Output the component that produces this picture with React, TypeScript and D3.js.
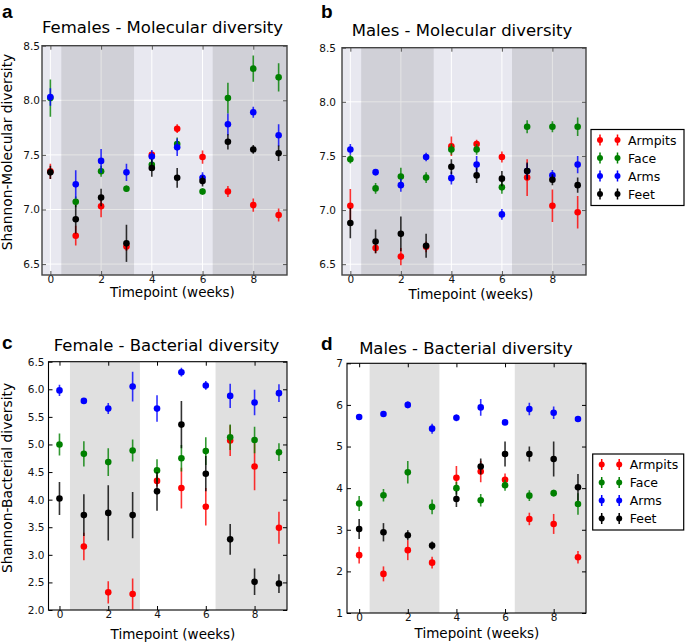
import React, { useRef, useEffect } from 'react';
import * as d3 from 'd3';

// timepoints and sites
const weeks = [0, 1, 2, 3, 4, 5, 6, 7, 8, 9];
const sites = ['Armpits', 'Face', 'Arms', 'Feet'];
const siteColors = ['#ff0000', '#008000', '#0000ff', '#000000'];

// tick values
const xTicks = [0, 2, 4, 6, 8];
const molTicks = [6.5, 7.0, 7.5, 8.0, 8.5];
const femBacTicks = [2.0, 2.5, 3.0, 3.5, 4.0, 4.5, 5.0, 5.5, 6.0, 6.5];
const maleBacTicks = [1, 2, 3, 4, 5, 6, 7];

// a - Females, molecular diversity
const femMolArmpits = [7.35, 6.76, 7.03, 6.66, 7.5, 7.74, 7.48, 7.165, 7.04, 6.95];
const femMolArmpitsErr = [0.07, 0.09, 0.1, 0.04, 0.03, 0.04, 0.06, 0.05, 0.06, 0.06];
const femMolFace = [8.02, 7.07, 7.35, 7.19, 7.41, 7.6, 7.165, 8.02, 8.29, 8.21];
const femMolFaceErr = [0.17, 0.05, 0.05, 0.03, 0.04, 0.06, 0.03, 0.14, 0.12, 0.13];
const femMolArms = [8.03, 7.23, 7.445, 7.34, 7.485, 7.57, 7.29, 7.78, 7.89, 7.68];
const femMolArmsErr = [0.08, 0.13, 0.11, 0.08, 0.06, 0.08, 0.05, 0.1, 0.05, 0.1];
const femMolFeet = [7.34, 6.91, 7.11, 6.69, 7.38, 7.29, 7.26, 7.62, 7.55, 7.515];
const femMolFeetErr = [0.06, 0.13, 0.08, 0.17, 0.08, 0.09, 0.05, 0.07, 0.04, 0.07];

// b - Males, molecular diversity
const maleMolArmpits = [7.04, 6.65, 6.57, 6.66, 7.59, 7.61, 7.49, 7.3, 7.04, 6.98];
const maleMolArmpitsErr = [0.155, 0.05, 0.08, 0.05, 0.09, 0.04, 0.05, 0.17, 0.15, 0.15];
const maleMolFace = [7.47, 7.2, 7.31, 7.3, 7.56, 7.56, 7.21, 7.77, 7.77, 7.77];
const maleMolFaceErr = [0.04, 0.05, 0.08, 0.05, 0.05, 0.05, 0.06, 0.06, 0.05, 0.085];
const maleMolArms = [7.56, 7.35, 7.23, 7.49, 7.295, 7.42, 6.96, 7.36, 7.32, 7.42];
const maleMolArmsErr = [0.05, 0.03, 0.06, 0.04, 0.06, 0.08, 0.05, 0.07, 0.05, 0.08];
const maleMolFeet = [6.88, 6.71, 6.78, 6.67, 7.4, 7.32, 7.29, 7.36, 7.28, 7.23];
const maleMolFeetErr = [0.14, 0.11, 0.16, 0.11, 0.07, 0.07, 0.07, 0.08, 0.05, 0.07];

// c - Female, bacterial diversity (armpits week 0 not visible)
const femBacArmpits = [null, 3.15, 2.32, 2.29, 4.34, 4.21, 3.87, 5.07, 4.6, 3.49];
const femBacArmpitsErr = [0, 0.25, 0.2, 0.28, 0.1, 0.37, 0.34, 0.28, 0.43, 0.29];
const femBacFace = [5.0, 4.83, 4.68, 4.89, 4.53, 4.75, 4.88, 5.13, 5.08, 4.86];
const femBacFaceErr = [0.2, 0.23, 0.25, 0.2, 0.2, 0.24, 0.25, 0.23, 0.24, 0.16];
const femBacArms = [5.98, 5.79, 5.65, 6.05, 5.65, 6.31, 6.07, 5.88, 5.76, 5.93];
const femBacArmsErr = [0.1, 0.03, 0.1, 0.27, 0.24, 0.08, 0.08, 0.22, 0.23, 0.16];
const femBacFeet = [4.02, 3.72, 3.76, 3.72, 4.15, 5.36, 4.47, 3.28, 2.51, 2.48];
const femBacFeetErr = [0.3, 0.38, 0.5, 0.42, 0.35, 0.43, 0.32, 0.28, 0.24, 0.17];

// d - Males, bacterial diversity
const maleBacArmpits = [2.39, 1.94, 2.51, 2.21, 4.25, 4.4, 4.2, 3.26, 3.14, 2.34];
const maleBacArmpitsErr = [0.2, 0.18, 0.24, 0.14, 0.28, 0.26, 0.15, 0.15, 0.24, 0.15];
const maleBacFace = [3.63, 3.83, 4.38, 3.55, 4.0, 3.71, 4.07, 3.82, 3.88, 3.62];
const maleBacFaceErr = [0.18, 0.15, 0.27, 0.18, 0.15, 0.15, 0.13, 0.13, 0.08, 0.26];
const maleBacArms = [5.71, 5.78, 6.0, 5.43, 5.69, 5.94, 5.58, 5.9, 5.81, 5.66];
const maleBacArmsErr = [0.03, 0.06, 0.08, 0.12, 0.08, 0.2, 0.05, 0.15, 0.15, 0.05];
const maleBacFeet = [3.02, 2.94, 2.87, 2.62, 3.74, 4.52, 4.82, 4.82, 4.7, 4.02];
const maleBacFeetErr = [0.24, 0.22, 0.12, 0.1, 0.19, 0.19, 0.3, 0.18, 0.42, 0.32];

// shaded week ranges
const bands: [number, number][] = [[0.43, 3.3], [6.4, 10]];

const FONT = "'DejaVu Sans', sans-serif";

type Series = { mean: (number | null)[]; err: number[] };

interface PanelProps {
  letter: string;
  letterPos: [number, number];
  title: string;
  titlePos: [number, number];
  xLabelPos: [number, number];
  yLabel?: string;
  yLabelPos?: [number, number];
  box: { left: number; top: number; width: number; height: number };
  xDomain: [number, number];
  yDomain: [number, number];
  yTicks: number[];
  yFormat: (d: number) => string;
  yPad: number;
  themed: boolean;
  series: Series[];
  legend?: { x: number; y: number; w: number; h: number };
}

const Panel: React.FC<PanelProps> = (p) => {
  const ref = useRef<SVGGElement>(null);

  useEffect(() => {
    if (!ref.current) return;
    const g = d3.select(ref.current);
    g.selectAll('*').remove();

    const { left, top, width, height } = p.box;
    const right = left + width;
    const bottom = top + height;
    const x = d3.scaleLinear().domain(p.xDomain).range([left, right]);
    const y = d3.scaleLinear().domain(p.yDomain).range([bottom, top]);
    const tickColor = p.themed ? '#555' : '#000';

    const clipId = `clip-${p.letter}`;
    g.append('clipPath').attr('id', clipId)
      .append('rect').attr('x', left).attr('y', top).attr('width', width).attr('height', height);

    // background
    g.append('rect')
      .attr('x', left).attr('y', top).attr('width', width).attr('height', height)
      .attr('fill', p.themed ? '#e8e8f0' : '#fff');

    if (p.themed) {
      g.append('g').selectAll('line').data(xTicks).join('line')
        .attr('x1', d => x(d)).attr('x2', d => x(d))
        .attr('y1', top).attr('y2', bottom)
        .attr('stroke', '#fff').attr('stroke-width', 1);
      g.append('g').selectAll('line').data(p.yTicks).join('line')
        .attr('x1', left).attr('x2', right)
        .attr('y1', d => y(d)).attr('y2', d => y(d))
        .attr('stroke', '#fff').attr('stroke-width', 1);
    }

    // shaded periods
    g.append('g').attr('clip-path', `url(#${clipId})`)
      .selectAll('rect').data(bands).join('rect')
      .attr('x', d => x(d[0]))
      .attr('width', d => x(Math.min(d[1], p.xDomain[1])) - x(d[0]))
      .attr('y', top).attr('height', height)
      .attr('fill', '#000')
      .attr('opacity', p.themed ? 0.1 : 0.12);

    // error bars + points
    const marks = g.append('g').attr('clip-path', `url(#${clipId})`);
    p.series.forEach((s, i) => {
      const pts = weeks
        .map((w, j) => ({ w, m: s.mean[j], e: s.err[j] }))
        .filter(d => d.m !== null) as { w: number; m: number; e: number }[];
      const sg = marks.append('g');
      sg.selectAll('line').data(pts).join('line')
        .attr('x1', d => x(d.w)).attr('x2', d => x(d.w))
        .attr('y1', d => y(d.m - d.e)).attr('y2', d => y(d.m + d.e))
        .attr('stroke', siteColors[i]).attr('stroke-width', 1.6)
        .attr('stroke-opacity', 0.8);
      sg.selectAll('circle').data(pts).join('circle')
        .attr('cx', d => x(d.w)).attr('cy', d => y(d.m))
        .attr('r', 3.3)
        .attr('fill', siteColors[i]);
    });

    // axes, ticks pointing inward
    const styleAxis = (sel: d3.Selection<SVGGElement, unknown, null, undefined>) => {
      sel.select('.domain').remove();
      sel.attr('font-family', FONT).attr('font-size', 10.5);
      sel.selectAll('text').attr('fill', '#111');
      sel.selectAll('line').attr('stroke', tickColor);
    };
    g.append('g').attr('transform', `translate(0,${bottom})`)
      .call(d3.axisBottom(x).tickValues(xTicks).tickSize(-4).tickPadding(1).tickFormat(d3.format('d')))
      .call(styleAxis);
    g.append('g').attr('transform', `translate(0,${top})`)
      .call(d3.axisTop(x).tickValues(xTicks).tickSize(-4).tickFormat(() => ''))
      .call(styleAxis);
    g.append('g').attr('transform', `translate(${left},0)`)
      .call(d3.axisLeft(y).tickValues(p.yTicks).tickSize(-4).tickPadding(p.yPad)
        .tickFormat(d => p.yFormat(d as number)))
      .call(styleAxis);
    g.append('g').attr('transform', `translate(${right},0)`)
      .call(d3.axisRight(y).tickValues(p.yTicks).tickSize(-4).tickFormat(() => ''))
      .call(styleAxis);

    // frame
    g.append('rect')
      .attr('x', left).attr('y', top).attr('width', width).attr('height', height)
      .attr('fill', 'none')
      .attr('stroke', p.themed ? '#444' : '#000')
      .attr('stroke-width', p.themed ? 1.4 : 1.1);

    // texts
    g.append('text')
      .attr('x', p.letterPos[0]).attr('y', p.letterPos[1])
      .attr('font-family', "'Liberation Sans', Arial, sans-serif")
      .attr('font-weight', 'bold').attr('font-size', 19)
      .text(p.letter);
    g.append('text')
      .attr('x', p.titlePos[0]).attr('y', p.titlePos[1])
      .attr('text-anchor', 'middle')
      .attr('font-family', FONT).attr('font-size', 16.5)
      .text(p.title);
    g.append('text')
      .attr('x', p.xLabelPos[0]).attr('y', p.xLabelPos[1])
      .attr('text-anchor', 'middle')
      .attr('font-family', FONT).attr('font-size', 13.5)
      .text('Timepoint (weeks)');
    if (p.yLabel && p.yLabelPos) {
      g.append('text')
        .attr('transform', `translate(${p.yLabelPos[0]},${p.yLabelPos[1]}) rotate(-90)`)
        .attr('text-anchor', 'middle')
        .attr('font-family', FONT).attr('font-size', 13.8)
        .text(p.yLabel);
    }

    // legend
    if (p.legend) {
      const L = p.legend;
      const lg = g.append('g');
      lg.append('rect')
        .attr('x', L.x).attr('y', L.y).attr('width', L.w).attr('height', L.h)
        .attr('fill', '#fff').attr('stroke', '#000').attr('stroke-width', 1.2);
      sites.forEach((name, i) => {
        const cy = L.y + 10.5 + i * 18;
        [9, 26.5].forEach(dx => {
          lg.append('line')
            .attr('x1', L.x + dx).attr('x2', L.x + dx)
            .attr('y1', cy - 5.5).attr('y2', cy + 5.5)
            .attr('stroke', siteColors[i]).attr('stroke-width', 1.5);
          lg.append('circle')
            .attr('cx', L.x + dx).attr('cy', cy).attr('r', 3)
            .attr('fill', siteColors[i]);
        });
        lg.append('text')
          .attr('x', L.x + 37).attr('y', cy + 4.5)
          .attr('font-family', FONT).attr('font-size', 12.5)
          .text(name);
      });
    }
  }, []);

  return <g ref={ref} />;
};

const App: React.FC = () => {
  const f1 = d3.format('.1f');
  const fInt = d3.format('d');
  return (
    <svg width={685} height={642} style={{ position: 'absolute', left: 0, top: 0, background: '#fff' }}>
      <Panel
        letter="a" letterPos={[2, 18]}
        title="Females - Molecular diversity" titlePos={[162.5, 33]}
        xLabelPos={[172.5, 297]}
        yLabel="Shannon-Molecular diversity" yLabelPos={[11.5, 152]}
        box={{ left: 42, top: 45.7, width: 245, height: 229.3 }}
        xDomain={[-0.33, 9.33]} yDomain={[6.4, 8.5]}
        yTicks={molTicks} yFormat={f1} yPad={2}
        themed
        series={[
          { mean: femMolArmpits, err: femMolArmpitsErr },
          { mean: femMolFace, err: femMolFaceErr },
          { mean: femMolArms, err: femMolArmsErr },
          { mean: femMolFeet, err: femMolFeetErr },
        ]}
      />
      <Panel
        letter="b" letterPos={[321, 18]}
        title="Males - Molecular diversity" titlePos={[462, 35.5]}
        xLabelPos={[471, 299]}
        box={{ left: 342, top: 47.7, width: 244, height: 227.3 }}
        xDomain={[-0.33, 9.33]} yDomain={[6.4, 8.5]}
        yTicks={molTicks} yFormat={f1} yPad={6}
        themed
        series={[
          { mean: maleMolArmpits, err: maleMolArmpitsErr },
          { mean: maleMolFace, err: maleMolFaceErr },
          { mean: maleMolArms, err: maleMolArmsErr },
          { mean: maleMolFeet, err: maleMolFeetErr },
        ]}
        legend={{ x: 591, y: 129.5, w: 93, h: 76 }}
      />
      <Panel
        letter="c" letterPos={[2, 349]}
        title="Female - Bacterial diversity" titlePos={[166.5, 351]}
        xLabelPos={[173, 638.5]}
        yLabel="Shannon-Bacterial diversity" yLabelPos={[11.5, 478]}
        box={{ left: 48.5, top: 361.7, width: 238.5, height: 248.3 }}
        xDomain={[-0.45, 9.33]} yDomain={[2, 6.5]}
        yTicks={femBacTicks} yFormat={f1} yPad={4}
        themed={false}
        series={[
          { mean: femBacArmpits, err: femBacArmpitsErr },
          { mean: femBacFace, err: femBacFaceErr },
          { mean: femBacArms, err: femBacArmsErr },
          { mean: femBacFeet, err: femBacFeetErr },
        ]}
      />
      <Panel
        letter="d" letterPos={[321, 350]}
        title="Males - Bacterial diversity" titlePos={[466, 354]}
        xLabelPos={[477, 638]}
        box={{ left: 347, top: 363.3, width: 239, height: 249.7 }}
        xDomain={[-0.5, 9.33]} yDomain={[1, 7]}
        yTicks={maleBacTicks} yFormat={fInt} yPad={4}
        themed={false}
        series={[
          { mean: maleBacArmpits, err: maleBacArmpitsErr },
          { mean: maleBacFace, err: maleBacFaceErr },
          { mean: maleBacArms, err: maleBacArmsErr },
          { mean: maleBacFeet, err: maleBacFeetErr },
        ]}
        legend={{ x: 592.7, y: 454, w: 91, h: 76 }}
      />
    </svg>
  );
};

export default App;
